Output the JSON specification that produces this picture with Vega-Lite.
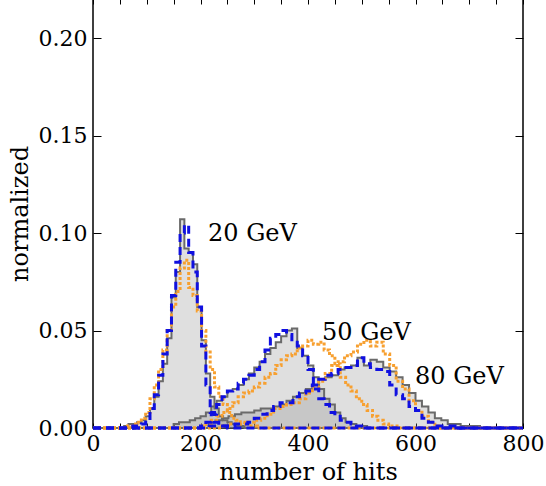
{
  "$schema": "https://vega.github.io/schema/vega-lite/v6.json",
  "width": 430,
  "height": 429,
  "autosize": "none",
  "padding": {"left": 93, "top": -1, "right": 23, "bottom": 58},
  "background": "white",
  "config": {
    "font": "DejaVu Serif",
    "view": {"stroke": "black", "strokeWidth": 1.5},
    "axis": {
      "labelFont": "DejaVu Serif", "labelFontSize": 22, "labelColor": "black",
      "titleFont": "DejaVu Serif", "titleFontSize": 24, "titleColor": "black", "titleFontWeight": "normal",
      "tickColor": "black", "tickWidth": 1, "grid": false, "domain": false
    }
  },
  "data": {"values": [
    {"k":"g","e":20,"x":0,"y":0},{"k":"g","e":20,"x":58,"y":0.001},{"k":"g","e":20,"x":66,"y":0.002},{"k":"g","e":20,"x":74,"y":0.002},{"k":"g","e":20,"x":82,"y":0.003},{"k":"g","e":20,"x":90,"y":0.004},{"k":"g","e":20,"x":98,"y":0.006},{"k":"g","e":20,"x":106,"y":0.010},{"k":"g","e":20,"x":114,"y":0.016},{"k":"g","e":20,"x":122,"y":0.024},{"k":"g","e":20,"x":130,"y":0.033},{"k":"g","e":20,"x":138,"y":0.046},{"k":"g","e":20,"x":146,"y":0.067},{"k":"g","e":20,"x":154,"y":0.080},{"k":"g","e":20,"x":162,"y":0.107},{"k":"g","e":20,"x":170,"y":0.092},{"k":"g","e":20,"x":178,"y":0.090},{"k":"g","e":20,"x":186,"y":0.084},{"k":"g","e":20,"x":194,"y":0.062},{"k":"g","e":20,"x":202,"y":0.045},{"k":"g","e":20,"x":210,"y":0.028},{"k":"g","e":20,"x":218,"y":0.016},{"k":"g","e":20,"x":226,"y":0.010},{"k":"g","e":20,"x":234,"y":0.006},{"k":"g","e":20,"x":242,"y":0.004},{"k":"g","e":20,"x":250,"y":0.003},{"k":"g","e":20,"x":258,"y":0.002},{"k":"g","e":20,"x":266,"y":0.001},{"k":"g","e":20,"x":274,"y":0.001},{"k":"g","e":20,"x":282,"y":0},{"k":"g","e":20,"x":800,"y":0},

    {"k":"b","e":20,"x":0,"y":0},{"k":"b","e":20,"x":74,"y":0.001},{"k":"b","e":20,"x":82,"y":0.001},{"k":"b","e":20,"x":90,"y":0.002},{"k":"b","e":20,"x":98,"y":0.004},{"k":"b","e":20,"x":106,"y":0.010},{"k":"b","e":20,"x":114,"y":0.017},{"k":"b","e":20,"x":122,"y":0.027},{"k":"b","e":20,"x":130,"y":0.038},{"k":"b","e":20,"x":138,"y":0.050},{"k":"b","e":20,"x":146,"y":0.068},{"k":"b","e":20,"x":154,"y":0.085},{"k":"b","e":20,"x":162,"y":0.100},{"k":"b","e":20,"x":170,"y":0.104},{"k":"b","e":20,"x":178,"y":0.090},{"k":"b","e":20,"x":186,"y":0.080},{"k":"b","e":20,"x":194,"y":0.062},{"k":"b","e":20,"x":202,"y":0.042},{"k":"b","e":20,"x":210,"y":0.022},{"k":"b","e":20,"x":218,"y":0.008},{"k":"b","e":20,"x":226,"y":0.003},{"k":"b","e":20,"x":234,"y":0.001},{"k":"b","e":20,"x":242,"y":0.001},{"k":"b","e":20,"x":250,"y":0},{"k":"b","e":20,"x":800,"y":0},

    {"k":"o","e":20,"x":0,"y":0},{"k":"o","e":20,"x":58,"y":0.001},{"k":"o","e":20,"x":66,"y":0.001},{"k":"o","e":20,"x":74,"y":0.002},{"k":"o","e":20,"x":82,"y":0.003},{"k":"o","e":20,"x":90,"y":0.005},{"k":"o","e":20,"x":98,"y":0.008},{"k":"o","e":20,"x":106,"y":0.015},{"k":"o","e":20,"x":114,"y":0.022},{"k":"o","e":20,"x":122,"y":0.030},{"k":"o","e":20,"x":130,"y":0.040},{"k":"o","e":20,"x":138,"y":0.050},{"k":"o","e":20,"x":146,"y":0.062},{"k":"o","e":20,"x":154,"y":0.070},{"k":"o","e":20,"x":162,"y":0.082},{"k":"o","e":20,"x":170,"y":0.086},{"k":"o","e":20,"x":178,"y":0.072},{"k":"o","e":20,"x":186,"y":0.068},{"k":"o","e":20,"x":194,"y":0.060},{"k":"o","e":20,"x":202,"y":0.050},{"k":"o","e":20,"x":210,"y":0.039},{"k":"o","e":20,"x":218,"y":0.030},{"k":"o","e":20,"x":226,"y":0.021},{"k":"o","e":20,"x":234,"y":0.016},{"k":"o","e":20,"x":242,"y":0.012},{"k":"o","e":20,"x":250,"y":0.008},{"k":"o","e":20,"x":258,"y":0.005},{"k":"o","e":20,"x":266,"y":0.004},{"k":"o","e":20,"x":274,"y":0.003},{"k":"o","e":20,"x":282,"y":0.002},{"k":"o","e":20,"x":290,"y":0.001},{"k":"o","e":20,"x":298,"y":0.001},{"k":"o","e":20,"x":306,"y":0},{"k":"o","e":20,"x":800,"y":0},

    {"k":"g","e":50,"x":0,"y":0},{"k":"g","e":50,"x":150,"y":0.002},{"k":"g","e":50,"x":160,"y":0.003},{"k":"g","e":50,"x":170,"y":0.003},{"k":"g","e":50,"x":180,"y":0.004},{"k":"g","e":50,"x":190,"y":0.005},{"k":"g","e":50,"x":200,"y":0.006},{"k":"g","e":50,"x":210,"y":0.008},{"k":"g","e":50,"x":220,"y":0.011},{"k":"g","e":50,"x":230,"y":0.014},{"k":"g","e":50,"x":240,"y":0.016},{"k":"g","e":50,"x":250,"y":0.019},{"k":"g","e":50,"x":260,"y":0.020},{"k":"g","e":50,"x":270,"y":0.022},{"k":"g","e":50,"x":280,"y":0.025},{"k":"g","e":50,"x":290,"y":0.028},{"k":"g","e":50,"x":300,"y":0.031},{"k":"g","e":50,"x":310,"y":0.034},{"k":"g","e":50,"x":320,"y":0.038},{"k":"g","e":50,"x":330,"y":0.041},{"k":"g","e":50,"x":340,"y":0.044},{"k":"g","e":50,"x":350,"y":0.047},{"k":"g","e":50,"x":360,"y":0.050},{"k":"g","e":50,"x":370,"y":0.051},{"k":"g","e":50,"x":380,"y":0.041},{"k":"g","e":50,"x":390,"y":0.037},{"k":"g","e":50,"x":400,"y":0.032},{"k":"g","e":50,"x":410,"y":0.026},{"k":"g","e":50,"x":420,"y":0.020},{"k":"g","e":50,"x":430,"y":0.015},{"k":"g","e":50,"x":440,"y":0.012},{"k":"g","e":50,"x":450,"y":0.008},{"k":"g","e":50,"x":460,"y":0.005},{"k":"g","e":50,"x":470,"y":0.003},{"k":"g","e":50,"x":480,"y":0.002},{"k":"g","e":50,"x":490,"y":0.001},{"k":"g","e":50,"x":500,"y":0.001},{"k":"g","e":50,"x":510,"y":0},{"k":"g","e":50,"x":800,"y":0},

    {"k":"b","e":50,"x":0,"y":0},{"k":"b","e":50,"x":200,"y":0.001},{"k":"b","e":50,"x":210,"y":0.003},{"k":"b","e":50,"x":220,"y":0.007},{"k":"b","e":50,"x":230,"y":0.012},{"k":"b","e":50,"x":240,"y":0.016},{"k":"b","e":50,"x":250,"y":0.019},{"k":"b","e":50,"x":260,"y":0.020},{"k":"b","e":50,"x":270,"y":0.023},{"k":"b","e":50,"x":280,"y":0.025},{"k":"b","e":50,"x":290,"y":0.027},{"k":"b","e":50,"x":300,"y":0.030},{"k":"b","e":50,"x":310,"y":0.034},{"k":"b","e":50,"x":320,"y":0.040},{"k":"b","e":50,"x":330,"y":0.046},{"k":"b","e":50,"x":340,"y":0.048},{"k":"b","e":50,"x":350,"y":0.050},{"k":"b","e":50,"x":360,"y":0.048},{"k":"b","e":50,"x":370,"y":0.044},{"k":"b","e":50,"x":380,"y":0.042},{"k":"b","e":50,"x":390,"y":0.037},{"k":"b","e":50,"x":400,"y":0.030},{"k":"b","e":50,"x":410,"y":0.020},{"k":"b","e":50,"x":420,"y":0.015},{"k":"b","e":50,"x":430,"y":0.012},{"k":"b","e":50,"x":440,"y":0.008},{"k":"b","e":50,"x":450,"y":0.006},{"k":"b","e":50,"x":460,"y":0.004},{"k":"b","e":50,"x":470,"y":0.003},{"k":"b","e":50,"x":480,"y":0.002},{"k":"b","e":50,"x":490,"y":0.001},{"k":"b","e":50,"x":500,"y":0},{"k":"b","e":50,"x":800,"y":0},

    {"k":"o","e":50,"x":0,"y":0},{"k":"o","e":50,"x":200,"y":0.001},{"k":"o","e":50,"x":210,"y":0.002},{"k":"o","e":50,"x":220,"y":0.004},{"k":"o","e":50,"x":230,"y":0.006},{"k":"o","e":50,"x":240,"y":0.008},{"k":"o","e":50,"x":250,"y":0.010},{"k":"o","e":50,"x":260,"y":0.013},{"k":"o","e":50,"x":270,"y":0.016},{"k":"o","e":50,"x":280,"y":0.018},{"k":"o","e":50,"x":290,"y":0.019},{"k":"o","e":50,"x":300,"y":0.021},{"k":"o","e":50,"x":310,"y":0.023},{"k":"o","e":50,"x":320,"y":0.026},{"k":"o","e":50,"x":330,"y":0.028},{"k":"o","e":50,"x":340,"y":0.032},{"k":"o","e":50,"x":350,"y":0.035},{"k":"o","e":50,"x":360,"y":0.037},{"k":"o","e":50,"x":370,"y":0.038},{"k":"o","e":50,"x":380,"y":0.041},{"k":"o","e":50,"x":390,"y":0.042},{"k":"o","e":50,"x":400,"y":0.045},{"k":"o","e":50,"x":410,"y":0.043},{"k":"o","e":50,"x":420,"y":0.044},{"k":"o","e":50,"x":430,"y":0.040},{"k":"o","e":50,"x":440,"y":0.037},{"k":"o","e":50,"x":450,"y":0.033},{"k":"o","e":50,"x":460,"y":0.026},{"k":"o","e":50,"x":470,"y":0.022},{"k":"o","e":50,"x":480,"y":0.019},{"k":"o","e":50,"x":490,"y":0.015},{"k":"o","e":50,"x":500,"y":0.012},{"k":"o","e":50,"x":510,"y":0.009},{"k":"o","e":50,"x":520,"y":0.006},{"k":"o","e":50,"x":530,"y":0.004},{"k":"o","e":50,"x":540,"y":0.002},{"k":"o","e":50,"x":550,"y":0.001},{"k":"o","e":50,"x":560,"y":0.001},{"k":"o","e":50,"x":570,"y":0},{"k":"o","e":50,"x":800,"y":0},

    {"k":"g","e":80,"x":0,"y":0},{"k":"g","e":80,"x":216,"y":0.003},{"k":"g","e":80,"x":228,"y":0.004},{"k":"g","e":80,"x":240,"y":0.005},{"k":"g","e":80,"x":252,"y":0.006},{"k":"g","e":80,"x":264,"y":0.007},{"k":"g","e":80,"x":276,"y":0.008},{"k":"g","e":80,"x":288,"y":0.008},{"k":"g","e":80,"x":300,"y":0.009},{"k":"g","e":80,"x":312,"y":0.010},{"k":"g","e":80,"x":324,"y":0.010},{"k":"g","e":80,"x":336,"y":0.011},{"k":"g","e":80,"x":348,"y":0.012},{"k":"g","e":80,"x":360,"y":0.014},{"k":"g","e":80,"x":372,"y":0.016},{"k":"g","e":80,"x":384,"y":0.018},{"k":"g","e":80,"x":396,"y":0.020},{"k":"g","e":80,"x":408,"y":0.022},{"k":"g","e":80,"x":420,"y":0.025},{"k":"g","e":80,"x":432,"y":0.026},{"k":"g","e":80,"x":444,"y":0.027},{"k":"g","e":80,"x":456,"y":0.030},{"k":"g","e":80,"x":468,"y":0.031},{"k":"g","e":80,"x":480,"y":0.032},{"k":"g","e":80,"x":492,"y":0.036},{"k":"g","e":80,"x":504,"y":0.032},{"k":"g","e":80,"x":516,"y":0.035},{"k":"g","e":80,"x":528,"y":0.034},{"k":"g","e":80,"x":540,"y":0.031},{"k":"g","e":80,"x":552,"y":0.029},{"k":"g","e":80,"x":564,"y":0.026},{"k":"g","e":80,"x":576,"y":0.022},{"k":"g","e":80,"x":588,"y":0.018},{"k":"g","e":80,"x":600,"y":0.014},{"k":"g","e":80,"x":612,"y":0.011},{"k":"g","e":80,"x":624,"y":0.008},{"k":"g","e":80,"x":636,"y":0.005},{"k":"g","e":80,"x":648,"y":0.004},{"k":"g","e":80,"x":660,"y":0.002},{"k":"g","e":80,"x":672,"y":0.002},{"k":"g","e":80,"x":684,"y":0.001},{"k":"g","e":80,"x":696,"y":0.001},{"k":"g","e":80,"x":708,"y":0.001},{"k":"g","e":80,"x":720,"y":0},{"k":"g","e":80,"x":800,"y":0},

    {"k":"b","e":80,"x":0,"y":0},{"k":"b","e":80,"x":216,"y":0.001},{"k":"b","e":80,"x":228,"y":0.001},{"k":"b","e":80,"x":240,"y":0.001},{"k":"b","e":80,"x":252,"y":0.001},{"k":"b","e":80,"x":264,"y":0.002},{"k":"b","e":80,"x":276,"y":0.002},{"k":"b","e":80,"x":288,"y":0.003},{"k":"b","e":80,"x":300,"y":0.005},{"k":"b","e":80,"x":312,"y":0.007},{"k":"b","e":80,"x":324,"y":0.009},{"k":"b","e":80,"x":336,"y":0.011},{"k":"b","e":80,"x":348,"y":0.013},{"k":"b","e":80,"x":360,"y":0.013},{"k":"b","e":80,"x":372,"y":0.016},{"k":"b","e":80,"x":384,"y":0.018},{"k":"b","e":80,"x":396,"y":0.019},{"k":"b","e":80,"x":408,"y":0.022},{"k":"b","e":80,"x":420,"y":0.025},{"k":"b","e":80,"x":432,"y":0.027},{"k":"b","e":80,"x":444,"y":0.028},{"k":"b","e":80,"x":456,"y":0.030},{"k":"b","e":80,"x":468,"y":0.031},{"k":"b","e":80,"x":480,"y":0.032},{"k":"b","e":80,"x":492,"y":0.036},{"k":"b","e":80,"x":504,"y":0.033},{"k":"b","e":80,"x":516,"y":0.031},{"k":"b","e":80,"x":528,"y":0.030},{"k":"b","e":80,"x":540,"y":0.029},{"k":"b","e":80,"x":552,"y":0.022},{"k":"b","e":80,"x":564,"y":0.017},{"k":"b","e":80,"x":576,"y":0.015},{"k":"b","e":80,"x":588,"y":0.011},{"k":"b","e":80,"x":600,"y":0.009},{"k":"b","e":80,"x":612,"y":0.005},{"k":"b","e":80,"x":624,"y":0.003},{"k":"b","e":80,"x":636,"y":0.001},{"k":"b","e":80,"x":648,"y":0.001},{"k":"b","e":80,"x":660,"y":0.001},{"k":"b","e":80,"x":672,"y":0.001},{"k":"b","e":80,"x":684,"y":0},{"k":"b","e":80,"x":800,"y":0},

    {"k":"o","e":80,"x":0,"y":0},{"k":"o","e":80,"x":240,"y":0.001},{"k":"o","e":80,"x":252,"y":0.002},{"k":"o","e":80,"x":264,"y":0.002},{"k":"o","e":80,"x":276,"y":0.002},{"k":"o","e":80,"x":288,"y":0.003},{"k":"o","e":80,"x":300,"y":0.004},{"k":"o","e":80,"x":312,"y":0.005},{"k":"o","e":80,"x":324,"y":0.007},{"k":"o","e":80,"x":336,"y":0.010},{"k":"o","e":80,"x":348,"y":0.011},{"k":"o","e":80,"x":360,"y":0.012},{"k":"o","e":80,"x":372,"y":0.013},{"k":"o","e":80,"x":384,"y":0.015},{"k":"o","e":80,"x":396,"y":0.018},{"k":"o","e":80,"x":408,"y":0.021},{"k":"o","e":80,"x":420,"y":0.024},{"k":"o","e":80,"x":432,"y":0.028},{"k":"o","e":80,"x":444,"y":0.032},{"k":"o","e":80,"x":456,"y":0.034},{"k":"o","e":80,"x":468,"y":0.037},{"k":"o","e":80,"x":480,"y":0.039},{"k":"o","e":80,"x":492,"y":0.043},{"k":"o","e":80,"x":504,"y":0.045},{"k":"o","e":80,"x":516,"y":0.042},{"k":"o","e":80,"x":528,"y":0.044},{"k":"o","e":80,"x":540,"y":0.038},{"k":"o","e":80,"x":552,"y":0.032},{"k":"o","e":80,"x":564,"y":0.024},{"k":"o","e":80,"x":576,"y":0.020},{"k":"o","e":80,"x":588,"y":0.014},{"k":"o","e":80,"x":600,"y":0.009},{"k":"o","e":80,"x":612,"y":0.006},{"k":"o","e":80,"x":624,"y":0.003},{"k":"o","e":80,"x":636,"y":0.001},{"k":"o","e":80,"x":648,"y":0},{"k":"o","e":80,"x":800,"y":0}
  ]},
  "encoding": {
    "x": {"field": "x", "type": "quantitative", "scale": {"domain": [0, 800], "nice": false, "zero": false}},
    "y": {"field": "y", "type": "quantitative", "stack": null, "scale": {"domain": [0, 0.22], "nice": false}},
    "detail": {"field": "e"}
  },
  "layer": [
    {
      "transform": [{"filter": "datum.k == 'g'"}],
      "mark": {"type": "area", "interpolate": "step-after", "color": "#8a8a8a", "opacity": 0.27},
      "encoding": {
        "x": {"field": "x", "type": "quantitative", "axis": {"orient": "bottom", "title": "number of hits", "values": [0,50,100,150,200,250,300,350,400,450,500,550,600,650,700,750,800], "labelExpr": "datum.value % 200 == 0 ? datum.label : ''", "tickSize": -5, "labelPadding": 10, "titlePadding": 6, "labelFlush": false}},
        "y": {"field": "y", "type": "quantitative", "stack": null, "axis": {"orient": "left", "title": "normalized", "values": [0, 0.05, 0.1, 0.15, 0.2], "format": ".2f", "tickSize": -8, "labelPadding": 14, "titlePadding": 6}}
      }
    },
    {
      "transform": [{"filter": "datum.k == 'g'"}],
      "mark": {"type": "line", "interpolate": "step-after", "color": "#6a6a6a", "strokeWidth": 2},
      "encoding": {
        "x": {"field": "x", "type": "quantitative", "axis": {"orient": "top", "title": null, "labels": false, "values": [0,50,100,150,200,250,300,350,400,450,500,550,600,650,700,750,800], "tickSize": -5}},
        "y": {"field": "y", "type": "quantitative", "axis": {"orient": "right", "title": null, "labels": false, "values": [0, 0.05, 0.1, 0.15, 0.2], "tickSize": -8}}
      }
    },
    {
      "transform": [{"filter": "datum.k == 'o'"}],
      "mark": {"type": "line", "interpolate": "step-after", "color": "#f7a030", "strokeWidth": 3, "strokeDash": [3, 2]},
      "encoding": {
        "x": {"field": "x", "type": "quantitative", "axis": null},
        "y": {"field": "y", "type": "quantitative", "axis": null}
      }
    },
    {
      "transform": [{"filter": "datum.k == 'b'"}],
      "mark": {"type": "line", "interpolate": "step-after", "color": "#1010e0", "strokeWidth": 3, "strokeDash": [8, 5]},
      "encoding": {
        "x": {"field": "x", "type": "quantitative", "axis": null},
        "y": {"field": "y", "type": "quantitative", "axis": null}
      }
    },
    {
      "data": {"values": [
        {"t": "20 GeV", "x": 214, "y": 0.0961},
        {"t": "50 GeV", "x": 426, "y": 0.0452},
        {"t": "80 GeV", "x": 599, "y": 0.0226}
      ]},
      "mark": {"type": "text", "align": "left", "baseline": "alphabetic", "font": "DejaVu Serif", "fontSize": 24, "color": "black"},
      "encoding": {
        "x": {"field": "x", "type": "quantitative", "axis": null},
        "y": {"field": "y", "type": "quantitative", "axis": null},
        "text": {"field": "t"},
        "detail": null
      }
    }
  ],
  "resolve": {"axis": {"x": "independent", "y": "independent"}}
}
